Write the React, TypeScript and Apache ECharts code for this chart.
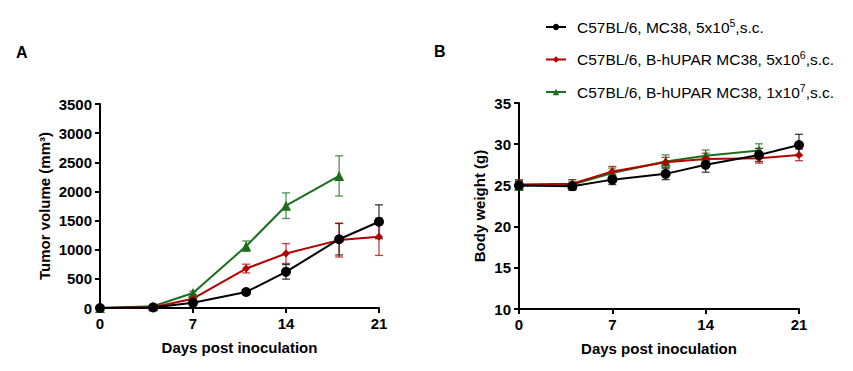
import React, { useEffect, useRef } from "react";
import * as echarts from "echarts";

const days = [0, 4, 7, 11, 14, 18, 21];
const seriesNames = [
  "C57BL/6, MC38, 5x10^5,s.c.",
  "C57BL/6, B-hUPAR MC38, 5x10^6,s.c.",
  "C57BL/6, B-hUPAR MC38, 1x10^7,s.c.",
];
const colors = ["#000000", "#b30000", "#1c6e1c"];
const symbols = ["circle", "diamond", "triangle"];
const symbolSizes = [10, 8, 10];

// Tumor volume (mm3)
const tumorBlack = [0, 10, 90, 275, 620, 1180, 1480];
const tumorBlackErr = [0, 8, 20, 30, 125, 270, 290];
const tumorRed = [0, 12, 160, 677, 935, 1165, 1222];
const tumorRedErr = [0, 8, 25, 75, 170, 290, 320];
const tumorGreen = [0, 30, 258, 1060, 1755, 2266];
const tumorGreenErr = [0, 10, 30, 90, 220, 345];

// Body weight (g)
const weightBlack = [25.0, 24.9, 25.7, 26.4, 27.5, 28.7, 29.9];
const weightBlackErr = [0.5, 0.5, 0.6, 0.7, 0.9, 0.8, 1.3];
const weightRed = [25.1, 25.2, 26.7, 27.8, 28.2, 28.3, 28.7];
const weightRedErr = [0.6, 0.5, 0.6, 0.6, 0.7, 0.6, 0.7];
const weightGreen = [25.0, 25.1, 26.5, 27.9, 28.6, 29.25];
const weightGreenErr = [0.6, 0.6, 0.6, 0.8, 0.7, 0.8];

const leftTicks = { min: 0, max: 3500, interval: 500 };
const rightTicks = { min: 10, max: 35, interval: 5 };

const FONT = "'Liberation Sans', Arial, sans-serif";

function pairs(vals: number[]) {
  return vals.map((v, i) => [days[i], v]);
}
function errPairs(vals: number[], errs: number[]) {
  return vals.map((v, i) => [days[i], v - errs[i], v + errs[i]]);
}

function errorSeries(idx: number, vals: number[], errs: number[], axisIndex: number) {
  return {
    type: "custom",
    name: "err" + idx + "_" + axisIndex,
    xAxisIndex: axisIndex,
    yAxisIndex: axisIndex,
    z: 1,
    data: errPairs(vals, errs),
    renderItem: (params: any, api: any) => {
      const x = api.value(0);
      const lo = api.coord([x, api.value(1)]);
      const hi = api.coord([x, api.value(2)]);
      const w = 4;
      const style = { stroke: colors[idx], lineWidth: 1.3, opacity: 0.75 };
      return {
        type: "group",
        children: [
          { type: "line", shape: { x1: lo[0], y1: lo[1], x2: hi[0], y2: hi[1] }, style },
          { type: "line", shape: { x1: hi[0] - w, y1: hi[1], x2: hi[0] + w, y2: hi[1] }, style },
          { type: "line", shape: { x1: lo[0] - w, y1: lo[1], x2: lo[0] + w, y2: lo[1] }, style },
        ],
      };
    },
  };
}

function lineSeries(idx: number, vals: number[], axisIndex: number) {
  return {
    type: "line",
    name: seriesNames[idx],
    xAxisIndex: axisIndex,
    yAxisIndex: axisIndex,
    z: 3,
    data: pairs(vals),
    symbol: symbols[idx],
    symbolSize: symbolSizes[idx],
    lineStyle: { color: colors[idx], width: 2 },
    itemStyle: { color: colors[idx] },
  };
}

const axisCommon = {
  axisLine: { show: true, lineStyle: { color: "#000", width: 2 } },
  axisTick: { show: true, length: 5, lineStyle: { color: "#000", width: 2 } },
  axisLabel: {
    color: "#000",
    fontWeight: "bold",
    fontSize: 15,
    fontFamily: FONT,
    formatter: (v: number) => String(v),
  },
  splitLine: { show: false },
  nameTextStyle: { color: "#000", fontWeight: "bold", fontSize: 15, fontFamily: FONT },
};

export default function App() {
  const ref = useRef<HTMLDivElement>(null);
  useEffect(() => {
    if (!ref.current) return;
    const chart = echarts.init(ref.current, undefined, { renderer: "svg" });
    const supFmt = (name: string) => {
      const m = name.match(/^(.*)\^(\d)(.*)$/);
      if (!m) return name;
      return "{a|" + m[1] + "}{s|" + m[2] + "}{a|" + m[3] + "}";
    };
    chart.setOption({
      animation: false,
      backgroundColor: "#fff",
      textStyle: { fontFamily: FONT },
      legend: {
        orient: "vertical",
        left: 545,
        top: 17,
        padding: 0,
        itemGap: 14.5,
        itemWidth: 20,
        itemHeight: 8,
        data: seriesNames,
        formatter: supFmt,
        textStyle: {
          color: "#000",
          fontSize: 15.5,
          fontFamily: FONT,
          padding: [0, 0, 0, 6],
          rich: {
            a: { fontSize: 15.5, lineHeight: 16, color: "#000", fontFamily: FONT, verticalAlign: "middle" },
            s: { fontSize: 10.5, lineHeight: 10, color: "#000", fontFamily: FONT, verticalAlign: "bottom", padding: [0, 0, 7, 0] },
          },
        },
      },
      grid: [
        { left: 100, top: 104, right: 474, bottom: 63 },
        { left: 519, top: 103, right: 54, bottom: 62 },
      ],
      xAxis: [0, 1].map((i) => ({
        gridIndex: i,
        type: "value",
        min: 0,
        max: 21,
        interval: 7,
        name: "Days post inoculation",
        nameLocation: "middle",
        nameGap: 32,
        ...axisCommon,
      })),
      yAxis: [
        {
          gridIndex: 0,
          type: "value",
          ...leftTicks,
          name: "Tumor volume (mm³)",
          nameLocation: "middle",
          nameGap: 48,
          ...axisCommon,
        },
        {
          gridIndex: 1,
          type: "value",
          ...rightTicks,
          name: "Body weight (g)",
          nameLocation: "middle",
          nameGap: 32,
          ...axisCommon,
        },
      ],
      graphic: [
        { type: "text", left: 16, top: 44, style: { text: "A", font: "bold 16px " + FONT, fill: "#000" } },
        { type: "text", left: 434, top: 43, style: { text: "B", font: "bold 16px " + FONT, fill: "#000" } },
      ],
      series: [
        errorSeries(0, tumorBlack, tumorBlackErr, 0),
        errorSeries(1, tumorRed, tumorRedErr, 0),
        errorSeries(2, tumorGreen, tumorGreenErr, 0),
        lineSeries(2, tumorGreen, 0),
        lineSeries(1, tumorRed, 0),
        lineSeries(0, tumorBlack, 0),
        errorSeries(0, weightBlack, weightBlackErr, 1),
        errorSeries(1, weightRed, weightRedErr, 1),
        errorSeries(2, weightGreen, weightGreenErr, 1),
        lineSeries(2, weightGreen, 1),
        lineSeries(1, weightRed, 1),
        lineSeries(0, weightBlack, 1),
      ],
    });
    return () => chart.dispose();
  }, []);
  return <div ref={ref} style={{ width: 853, height: 371, margin: -8 }} />;
}
